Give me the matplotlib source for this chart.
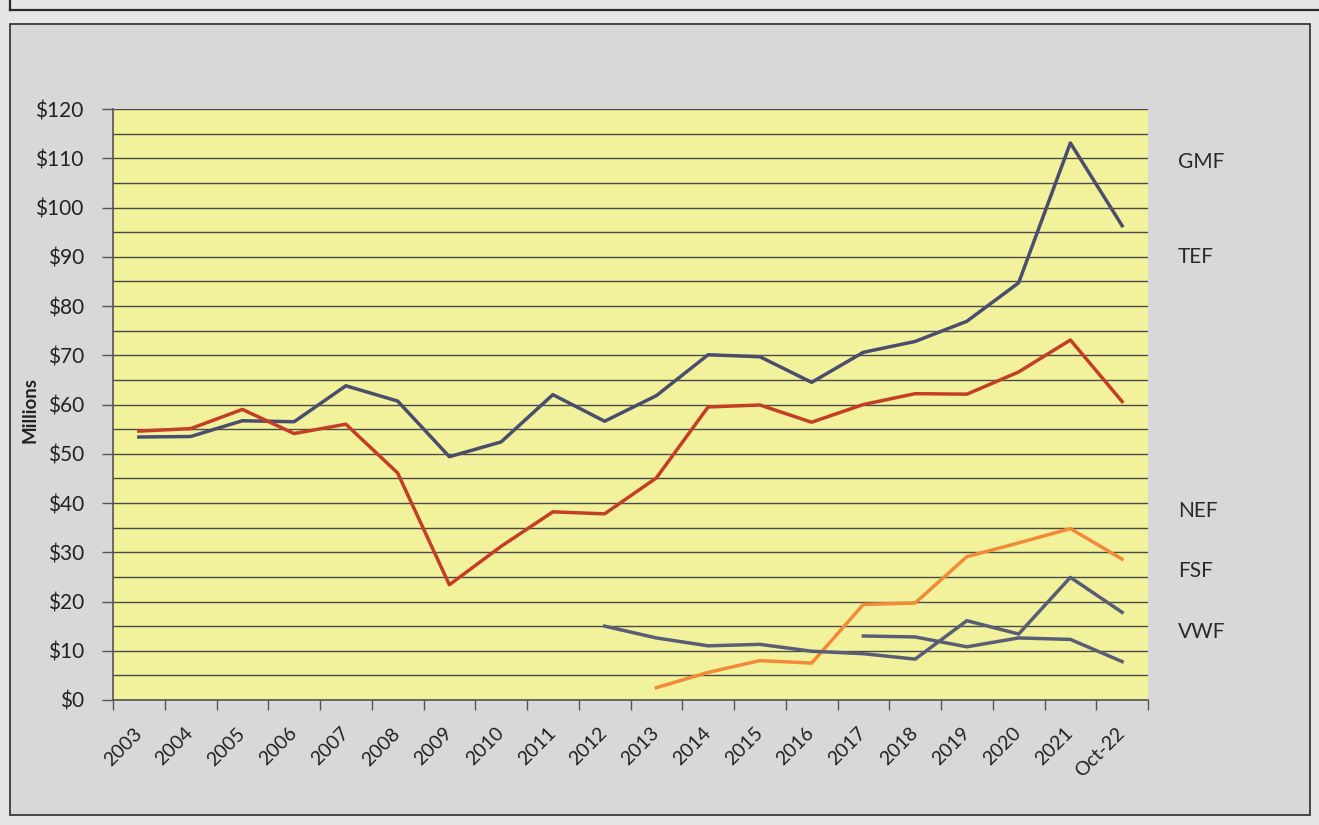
import numpy as np
import matplotlib.pyplot as plt
from matplotlib.patches import Rectangle
from matplotlib.lines import Line2D

plt.rcParams['font.family'] = ['Lato', 'DejaVu Sans']

# fund balances, $ millions
years = ['2003', '2004', '2005', '2006', '2007', '2008', '2009', '2010', '2011', '2012',
         '2013', '2014', '2015', '2016', '2017', '2018', '2019', '2020', '2021', 'Oct-22']
gmf = [53.4, 53.5, 56.7, 56.5, 63.8, 60.7, 49.4, 52.4, 62.0, 56.6,
       61.8, 70.1, 69.7, 64.5, 70.6, 72.8, 76.9, 84.7, 113.1, 96.3]
tef = [54.6, 55.1, 59.0, 54.1, 56.0, 46.1, 23.4, 31.2, 38.2, 37.8,
       45.1, 59.5, 59.9, 56.4, 60.0, 62.2, 62.1, 66.6, 73.1, 60.6]
nef = [None, None, None, None, None, None, None, None, None, None,
       2.5, 5.6, 8.0, 7.5, 19.4, 19.7, 29.1, 31.9, 34.8, 28.6]
fsf = [None, None, None, None, None, None, None, None, None, 15.0,
       12.6, 11.0, 11.3, 9.9, 9.4, 8.3, 16.1, 13.4, 24.9, 17.8]
vwf = [None, None, None, None, None, None, None, None, None, None,
       None, None, None, None, 13.0, 12.8, 10.8, 12.6, 12.3, 7.8]

names = ['GMF', 'TEF', 'NEF', 'FSF', 'VWF']
label_y = [162, 257, 511, 571, 632]   # pixel rows of the right-hand names

W, H = 1319, 825
fig = plt.figure(figsize=(W / 100, H / 100), dpi=100, facecolor='#e6e6e6')

# scanned page frame
fig.patches.append(Rectangle((10 / W, 1 - 815 / H), 1300 / W, (815 - 24) / H,
                             transform=fig.transFigure, facecolor='#d8d8d8',
                             edgecolor='#3a3a3a', linewidth=1.3, zorder=-5))
fig.lines.append(Line2D([10 / W, 1], [1 - 10 / H, 1 - 10 / H], transform=fig.transFigure,
                        color='#2a2a2a', linewidth=1.6, zorder=-5))
fig.lines.append(Line2D([10 / W, 10 / W], [1, 1 - 10 / H], transform=fig.transFigure,
                        color='#2a2a2a', linewidth=1.6, zorder=-5))

ax = fig.add_axes([113 / W, 1 - 700 / H, (1148 - 113) / W, (700 - 109) / H])
ax.set_zorder(2)
ax.set_facecolor('#f2f29c')

x = np.arange(len(years))
ax.plot(x, np.array(gmf, dtype=float), color='#4a4e6c', lw=2.5, zorder=4)
ax.plot(x, np.array(tef, dtype=float), color='#c43e26', lw=2.5, zorder=4)
ax.plot(x, np.array(nef, dtype=float), color='#f28a38', lw=2.5, zorder=4)
ax.plot(x, np.array(fsf, dtype=float), color='#595d75', lw=2.5, zorder=4)
ax.plot(x, np.array(vwf, dtype=float), color='#595d75', lw=2.5, zorder=4)

ax.set_xlim(-0.5, len(years) - 0.5)
ax.set_ylim(0, 120)

ax.set_yticks(np.arange(0, 121, 10))
ax.set_yticklabels(['$%d' % v for v in range(0, 121, 10)], fontsize=15, color='#222222')
ax.set_yticks(np.arange(5, 120, 10), minor=True)
ax.tick_params(axis='y', which='major', length=8, width=1, color='#555555', pad=13)
ax.tick_params(axis='y', which='minor', length=0)
ax.grid(axis='y', which='both', color='#4a4a4a', lw=1.0, zorder=1)

ax.set_xticks(x)
ax.set_xticklabels(years, rotation=45, ha='right', va='center',
                   rotation_mode='anchor', fontsize=14, color='#222222')
ax.set_xticks(np.arange(-0.5, len(years)), minor=True)
ax.tick_params(axis='x', which='major', length=0, pad=22)
ax.tick_params(axis='x', which='minor', length=7, width=1, color='#555555')

for side in ['top', 'right']:
    ax.spines[side].set_visible(False)
for side in ['left', 'bottom']:
    ax.spines[side].set_color('#555555')
    ax.spines[side].set_linewidth(1.2)

fig.text(30 / W, 1 - 410 / H, 'Millions', rotation=90, ha='center', va='center',
         fontsize=13.5, fontweight='bold', color='#222222')

for name, py in zip(names, label_y):
    fig.text(1178 / W, 1 - py / H, name, ha='left', va='center', fontsize=15, color='#2a2a2a')

fig.savefig('out.png', dpi=100, facecolor=fig.get_facecolor())
